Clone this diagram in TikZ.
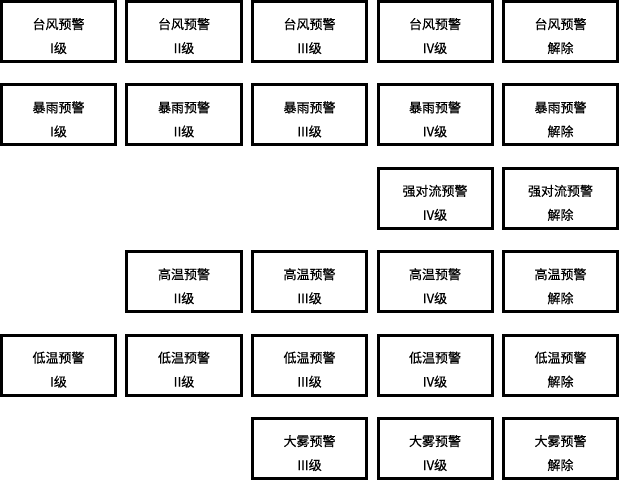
\documentclass[tikz,border=0pt]{standalone}
\usepackage{fontspec}
\newfontfamily\cjk{Noto Sans CJK SC}[FakeBold=0.3]
\usepackage{tikz}
\usetikzlibrary{positioning}
\tikzset{%
  warning/.style={%
    draw, line width=3pt, minimum width=114pt, minimum height=60pt,
    inner sep=0pt, align=center, text centered,
    text height=51.5pt, text depth=8.5pt,
    font=\cjk\fontsize{13}{24}\selectfont
  },
}

\begin{document}
\begin{tikzpicture}[x=125.5pt, y=-83.4pt]
    \useasboundingbox (-58.5pt,31.5pt) rectangle ++(619pt,-480pt);
    % typhoon
    \foreach \lvl [count=\i] in {I级,II级,III级,IV级,解除}
        \node (TYPHOON\i)[warning] at (\i-1,0) {台风预警\\\lvl};
    % rainstorm
    \foreach \lvl [count=\i] in {I级,II级,III级,IV级,解除}
        \node (RAINSTORM\i)[warning] at (\i-1,1) {暴雨预警\\\lvl};
    % convection
    \node (CONVECTION4)[warning] at (3,2) {强对流预警\\IV级};
    \node (CONVECTION5)[warning] at (4,2) {强对流预警\\解除};
    % heat
    \foreach \lvl [count=\i from 2] in {II级,III级,IV级,解除}
        \node (HEAT\i)[warning] at (\i-1,3) {高温预警\\\lvl};
    % cold
    \foreach \lvl [count=\i] in {I级,II级,III级,IV级,解除}
        \node (COLD\i)[warning] at (\i-1,4) {低温预警\\\lvl};
    % fog
    \foreach \lvl [count=\i from 3] in {III级,IV级,解除}
        \node (FOG\i)[warning] at (\i-1,5) {大雾预警\\\lvl};
\end{tikzpicture}
\end{document}
